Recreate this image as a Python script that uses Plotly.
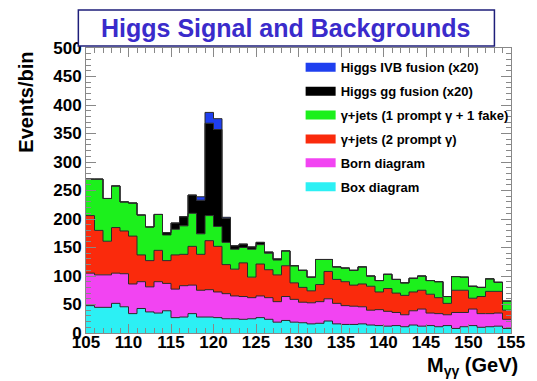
import numpy as np
import plotly.graph_objects as go

# ---- data (Events/bin per 1 GeV bin, 105..155 GeV) ----
bin_low = list(range(105, 155))
box_diagram = [48,45,45,52,46,34,43,37,35,39,27,28,34,28,28,27,25,25,24,25,
               27,24,19,22,19,18,16,17,21,16,15,15,16,14,13,12,13,11,14,12,
               13,11,13,8,11,13,10,11,12,8]
born_diagram = [57,57,57,53,58,52,47,44,55,48,50,55,50,47,48,45,44,40,40,37,
                38,38,36,42,40,36,37,38,39,36,33,32,30,26,28,26,23,21,25,30,
                22,23,19,28,25,29,24,23,23,16]
gjets_2prompt = [101,78,59,80,75,84,47,46,55,40,60,55,68,63,86,80,51,47,59,36,
                 56,49,47,54,29,26,21,30,48,42,42,37,40,42,31,40,34,34,33,33,
                 33,28,20,39,39,19,30,39,38,16]
gjets_1fake = [64,90,75,73,51,58,70,59,63,45,45,50,58,36,44,35,39,35,27,49,
               34,29,26,26,30,30,24,44,21,22,24,26,30,18,20,25,24,22,24,25,
               24,28,12,24,23,21,16,22,16,16]
higgs_gg = [0,0,0,0,0,0,0,0,0,4,11,16,32,59,162,170,42,6,6,4,
            4,2,2,0,0,0,0,0,0,0,0,0,0,0,0,0,0,0,0,0,
            0,0,0,0,0,0,0,0,0,0]
higgs_ivb = [0,0,0,0,0,0,0,0,0,0,0,0,0,6,19,19,2,0,0,0,
             0,0,0,0,0,0,0,0,0,0,0,0,0,0,0,0,0,0,0,0,
             0,0,0,0,0,0,0,0,0,0]

x_ticks = [105, 110, 115, 120, 125, 130, 135, 140, 145, 150, 155]
y_ticks = [0, 50, 100, 150, 200, 250, 300, 350, 400, 450, 500]

layers = [
    ("Box diagram", box_diagram, "#2CF0F4"),
    ("Born diagram", born_diagram, "#F244F2"),
    ("\u03b3+jets (2 prompt \u03b3)", gjets_2prompt, "#FA2A0C"),
    ("\u03b3+jets (1 prompt \u03b3 + 1 fake)", gjets_1fake, "#1CF01C"),
    ("Higgs gg fusion (x20)", higgs_gg, "#000000"),
    ("Higgs IVB fusion (x20)", higgs_ivb, "#1F3FEF"),
]

FONT = "Liberation Sans, Arial, Helvetica, sans-serif"
edges = bin_low + [bin_low[-1] + 1]

fig = go.Figure()
cum = np.zeros(len(bin_low))
for i, (name, vals, col) in enumerate(layers):
    cum = cum + np.array(vals, dtype=float)
    yv = list(cum) + [cum[-1]]
    fig.add_trace(go.Scatter(
        x=edges, y=yv, mode="lines", line=dict(shape="hv", color="#2a2a2a", width=1),
        fill="tozeroy" if i == 0 else "tonexty", fillcolor=col,
        showlegend=False, hoverinfo="skip"))

# legend entries (top to bottom)
for name, vals, col in reversed(layers):
    fig.add_trace(go.Scatter(
        x=[None], y=[None], mode="lines", name=name,
        line=dict(color=col, width=9), legendgroup=name, showlegend=True))

fig.update_layout(
    width=537, height=381,
    margin=dict(l=86, r=16, t=48, b=48),
    paper_bgcolor="white", plot_bgcolor="white",
    font=dict(family=FONT, color="black"),
    showlegend=True,
    legend=dict(x=0.505, y=0.985, xanchor="left", yanchor="top",
                bgcolor="rgba(0,0,0,0)", traceorder="grouped", tracegroupgap=4,
                font=dict(family=FONT, size=13, color="black", weight="bold"),
                itemwidth=30),
    xaxis=dict(range=[105, 155], tickvals=x_ticks, ticks="inside", ticklen=9,
               tickwidth=1, tickcolor="#888", showline=True, linecolor="#888",
               mirror="ticks", showgrid=False, zeroline=False, ticklabelstandoff=-6,
               minor=dict(dtick=1, tick0=105, ticks="inside", ticklen=5, tickcolor="#888"),
               tickfont=dict(family=FONT, size=17, weight="bold", color="black")),
    yaxis=dict(range=[0, 500], tickvals=y_ticks, ticks="inside", ticklen=10,
               tickwidth=1, tickcolor="#888", showline=True, linecolor="#888",
               mirror="ticks", showgrid=False, zeroline=False,
               minor=dict(dtick=10, tick0=0, ticks="inside", ticklen=5, tickcolor="#888"),
               tickfont=dict(family=FONT, size=17, weight="bold", color="black")),
)

# title box
fig.add_shape(type="rect", xref="paper", yref="paper",
              x0=-0.018, x1=0.961, y0=1.007, y1=1.133,
              line=dict(color="#1E1E7A", width=1.5), fillcolor="white", layer="above")
fig.add_annotation(text="<b>Higgs Signal and Backgrounds</b>", xref="paper", yref="paper",
                   x=0.471, y=1.070, xanchor="center", yanchor="middle", showarrow=False,
                   font=dict(family=FONT, size=25, color="#3A2BCB"))

# axis titles
fig.add_annotation(text="<b>Events/bin</b>", xref="paper", yref="paper",
                   x=-0.14, y=0.81, xanchor="center", yanchor="middle", textangle=-90,
                   showarrow=False, font=dict(family=FONT, size=20, color="black"))
fig.add_annotation(text="<b>M<sub>\u03b3\u03b3</sub> (GeV)</b>", xref="paper", yref="paper",
                   x=1.021, y=-0.118, xanchor="right", yanchor="middle",
                   showarrow=False, font=dict(family=FONT, size=20, color="black"))

fig.write_html("out.html")
